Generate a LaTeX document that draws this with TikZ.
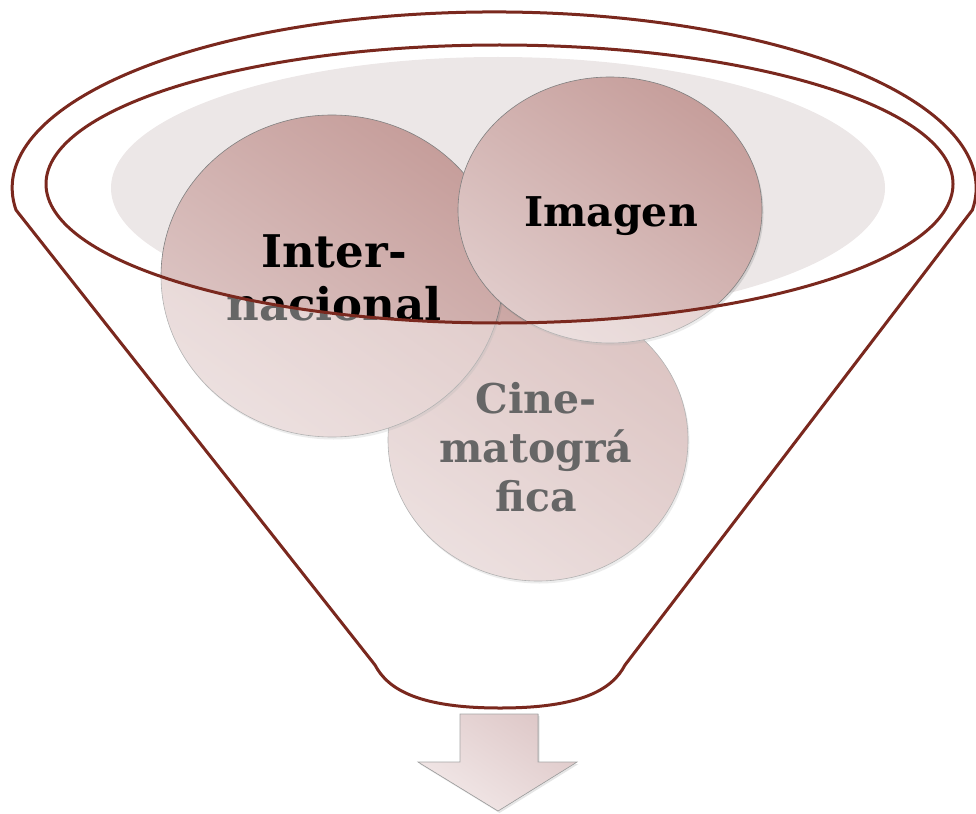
\documentclass[tikz,border=0pt]{standalone}
\usepackage{fontspec}
\setmainfont{DejaVu Serif}
\usetikzlibrary{shapes.geometric,shadows}
\definecolor{funnelc}{RGB}{122,40,30}
\definecolor{bgell}{RGB}{236,231,231}
\definecolor{cdark}{RGB}{198,158,155}
\definecolor{clight}{RGB}{224,203,202}
\definecolor{adark}{RGB}{222,200,200}
\definecolor{alight}{RGB}{242,232,232}
\tikzset{
  bubble/.style={ellipse, inner sep=0pt, draw=black!50, line width=0.6pt,
    top color=cdark, bottom color=clight, shading angle=-35,
    drop shadow={opacity=0.25, shadow xshift=1.5pt, shadow yshift=-2.5pt}},
  lbl/.style={inner sep=0pt, align=center},
  funnelline/.style={draw=funnelc, line width=3pt, line join=round},
  arrowshape/.style={draw=black!35, line width=0.6pt, top color=adark, bottom color=alight, shading angle=-35,
    drop shadow={opacity=0.2, shadow xshift=1.5pt, shadow yshift=-2pt}},
  bigtext/.style={font=\bfseries\fontsize{45}{53}\selectfont},
  midtext/.style={font=\bfseries\fontsize{41}{49}\selectfont}
}
\begin{document}
\begin{tikzpicture}[x=1pt,y=-1pt]
\useasboundingbox (0,0) rectangle (976,813);
% background ellipse
\fill[bgell] (498,188) ellipse[x radius=387, y radius=131];
% circles
\node[bubble, minimum width=300pt, minimum height=282pt] (cine) at (538,440) {};
\node[lbl, midtext] (cinetext) at (536,447) {Cine-\\matográ\\fica};
\node[bubble, minimum width=342pt, minimum height=322pt] (intl) at (332,276) {};
\node[lbl, bigtext] (intltext) at (334,278) {Inter-\\nacional};
\node[bubble, minimum width=304pt, minimum height=266pt] (imagen) at (610,210) {};
\node[lbl, midtext] (imagentext) at (611,216) {Imagen};
% wash outside the inner ellipse
\fill[white, opacity=0.4, even odd rule] (0,0) rectangle (976,813) (499.5,184) ellipse[x radius=453.5, y radius=139];
% inner ellipse
\draw[funnelline] (499.5,184) ellipse[x radius=453.5, y radius=139];
% funnel outline
\draw[funnelline] (16,210) arc[start angle=172.8, end angle=367.2, x radius=482, y radius=176]
  -- (625,665) .. controls (612,690) and (580,708) .. (500,708)
  .. controls (420,708) and (388,690) .. (375,665) -- cycle;
% arrow
\filldraw[arrowshape] (460,714) -- (538,714) -- (538,762) -- (577,762) -- (498,811) -- (418,762) -- (460,762) -- cycle;
\end{tikzpicture}
\end{document}
